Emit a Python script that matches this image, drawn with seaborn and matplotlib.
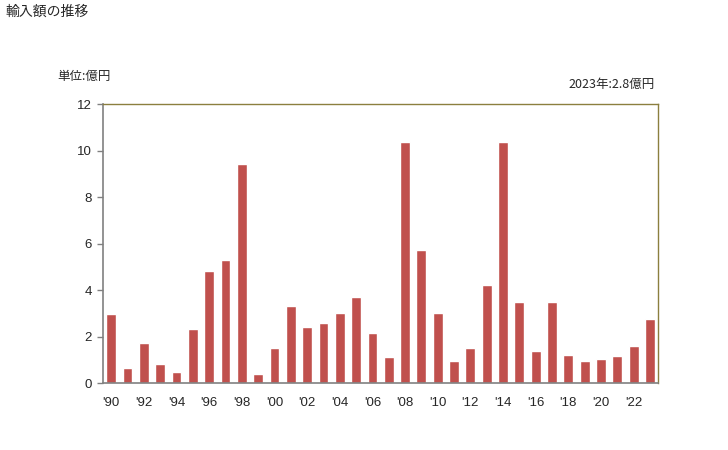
import matplotlib
matplotlib.use("Agg")
import matplotlib.pyplot as plt
import seaborn as sns
import pandas as pd

years = list(range(1990, 2024))
values = [3.0, 0.67, 1.73, 0.83, 0.49, 2.34, 4.83, 5.30, 9.43, 0.40,
          1.53, 3.32, 2.42, 2.59, 3.02, 3.71, 2.16, 1.13, 10.38, 5.73,
          3.02, 0.96, 1.52, 4.23, 10.38, 3.50, 1.39, 3.50, 1.22, 0.96,
          1.05, 1.17, 1.60, 2.77]
tick_labels = ["'%02d" % (y % 100) if y % 2 == 0 else "" for y in years]

sns.set_theme(style="white")
plt.rcParams['font.family'] = ['Liberation Sans', 'Noto Sans CJK JP', 'DejaVu Sans']

df = pd.DataFrame({"year": [str(y) for y in years], "value": values})

fig = plt.figure(figsize=(7.28, 4.5), dpi=100)
ax = fig.add_axes([0.1415, 0.148, 0.7625, 0.62])
sns.barplot(data=df, x="year", y="value", color="#C0504D", width=0.6,
            saturation=1, ax=ax)

ax.set_ylim(0, 12)
ax.set_yticks([0, 2, 4, 6, 8, 10, 12])
ax.set_xlim(-0.5, len(years) - 0.5)
ax.set_xticks(range(len(years)))
ax.set_xticklabels(tick_labels)
ax.set_xlabel("")
ax.set_ylabel("")
ax.tick_params(axis="y", left=True, length=4, width=1, color="#808080",
               labelsize=9.5, pad=4)
ax.tick_params(axis="x", bottom=False, labelsize=9.5, pad=4)

for s in ["left", "bottom"]:
    ax.spines[s].set_color("#808080")
    ax.spines[s].set_linewidth(1.2)
for s in ["top", "right"]:
    ax.spines[s].set_color("#8B7F3F")
    ax.spines[s].set_linewidth(1.0)

jp = ['Noto Sans CJK JP', 'DejaVu Sans']
fig.text(5 / 728, 1 - 12 / 450, "輸入額の推移", fontsize=10, va="center", ha="left", family=jp)
fig.text(57 / 728, 1 - 76 / 450, "単位:億円", fontsize=9, va="center", ha="left", family=jp)
fig.text(655 / 728, 1 - 84 / 450, "2023年:2.8億円", fontsize=9, va="center", ha="right", family=jp)

fig.savefig("out.png", dpi=100)
